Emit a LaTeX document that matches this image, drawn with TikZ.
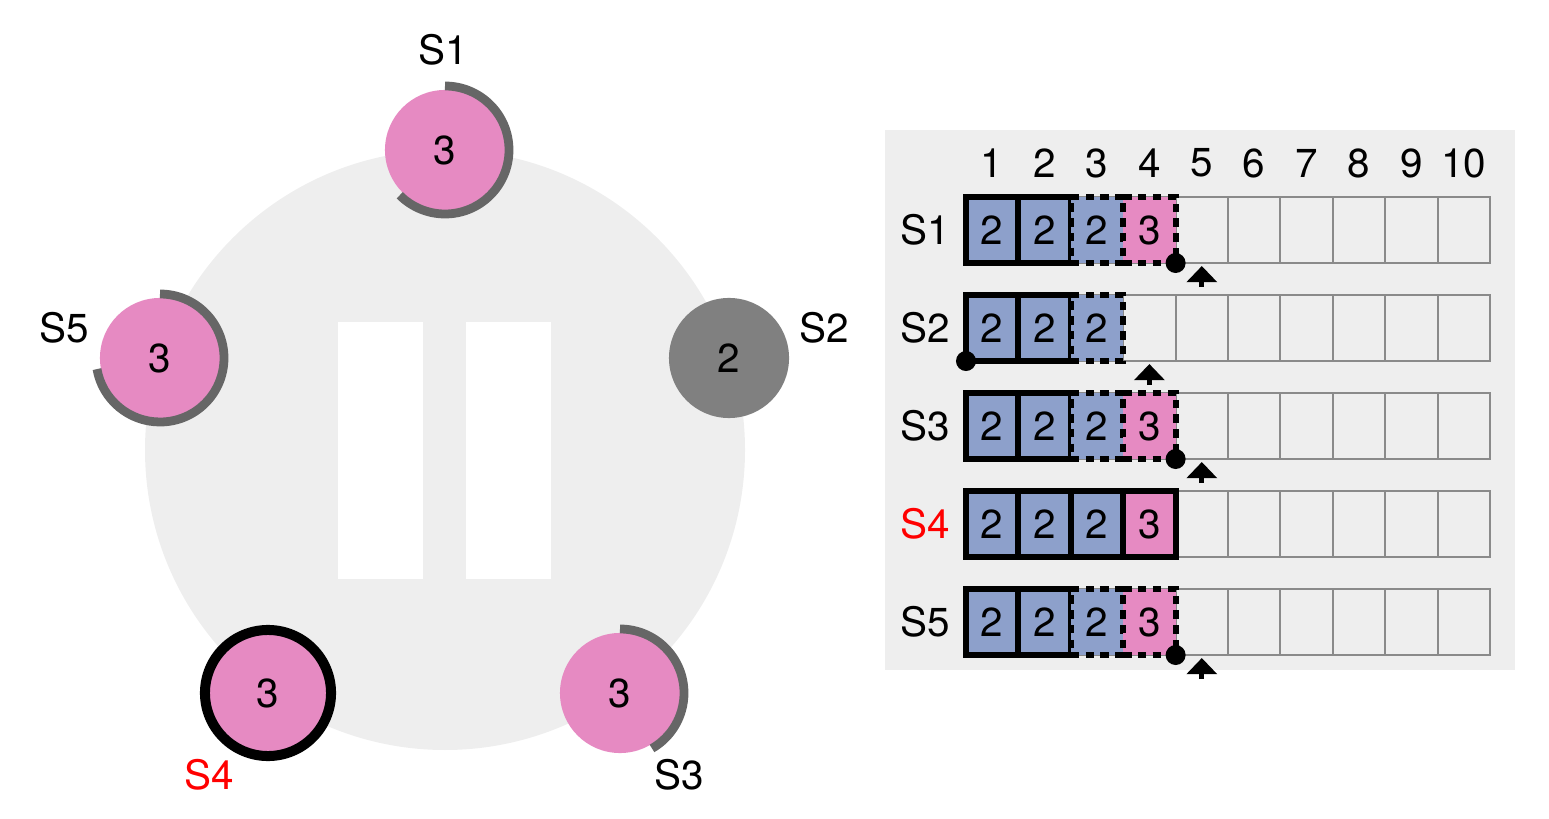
\documentclass[tikz,border=0pt]{standalone}
\usepackage{fontspec}
\setmainfont{TeX Gyre Heros}
\usetikzlibrary{arrows.meta,positioning,calc}
\definecolor{bggray}{RGB}{238,238,238}
\definecolor{termpink}{RGB}{230,138,194}
\definecolor{termblue}{RGB}{141,160,203}
\definecolor{timergray}{RGB}{102,102,102}
\definecolor{deadgray}{RGB}{128,128,128}
\definecolor{gridgray}{RGB}{138,138,138}
\tikzset{
  txt/.style={font=\fontsize{11.5pt}{13pt}\selectfont},
  server/.style={txt, circle, minimum size=1.2cm, inner sep=0pt, fill=termpink},
  leader/.style={draw=black, line width=2.85pt, minimum size=1.26cm},
  timer/.style={timergray, line width=2.5pt},
  slot/.style={rectangle, minimum width=0.524cm, minimum height=0.66cm, inner sep=0pt,
    outer sep=0pt, fill=bggray, draw=gridgray, line width=0.6pt},
  committed/.style={txt, slot, draw=black, line width=1.7pt},
  tentative/.style={committed, dash pattern=on 2.4pt off 1.8pt},
  ptrdot/.style={circle, fill=black, minimum size=0.2cm, inner sep=0pt},
  nextptr/.style={-{Triangle[width=8.5pt,length=4.6pt]}, line width=1.4pt},
}

\begin{document}
\begin{tikzpicture}[x=0.01cm, y=0.01cm]
    \useasboundingbox (0,0) rectangle (1549,818);
    % cluster
    \fill[bggray] (445,368) circle (300);
    \fill[white] (338,239) rectangle (423,496);
    \fill[white] (466,239) rectangle (551,496);
    % servers
    \node[server] (s1) at (445,668) {3};
    \node[server, fill=deadgray] (s2) at (729,460) {2};
    \node[server] (s3) at (620,125) {3};
    \node[server, leader] (s4) at (268,125) {3};
    \node[server] (s5) at (160,460) {3};
    % election timers
    \draw[timer] ([shift={(90:64)}]s1.center) arc[start angle=90, end angle=-135, radius=64];
    \draw[timer] ([shift={(90:64)}]s3.center) arc[start angle=90, end angle=-60, radius=64];
    \draw[timer] ([shift={(90:64)}]s5.center) arc[start angle=90, end angle=-170, radius=64];
    % server names
    \node[txt] (s1name) at (443,768) {S1};
    \node[txt] (s2name) at (824,490) {S2};
    \node[txt] (s3name) at (679,43) {S3};
    \node[txt, red] (s4name) at (209,43) {S4};
    \node[txt] (s5name) at (64,490) {S5};
    % logs
    \fill[bggray] (885,148) rectangle (1515,688);
    \foreach \c in {1,...,10}
      \node[txt] (h\c) at ({966+52.4*(\c-0.5)},655) {\c};
    \foreach \r/\clr in {1/black,2/black,3/black,4/red,5/black} {
      \node[txt, text=\clr] (r\r) at (925,{588-98*(\r-1)}) {S\r};
      \foreach \c in {1,...,10}
        \node[slot] (c\r-\c) at ({966+52.4*(\c-0.5)},{588-98*(\r-1)}) {};
    }
    % S1, S3, S5
    \foreach \r in {1,3,5} {
      \node[committed, fill=termblue] (e\r-1) at (c\r-1) {2};
      \node[committed, fill=termblue] (e\r-2) at (c\r-2) {2};
      \node[tentative, fill=termblue] (e\r-3) at (c\r-3) {2};
      \node[tentative, fill=termpink] (e\r-4) at (c\r-4) {3};
      \node[ptrdot] (d\r) at (c\r-4.south east) {};
      \coordinate (n\r) at ($(c\r-5.south)+(0,-24)$);
      \draw[nextptr] (n\r) -- ($(c\r-5.south)+(0,-3)$);
    }
    % S2
    \node[committed, fill=termblue] (e2-1) at (c2-1) {2};
    \node[committed, fill=termblue] (e2-2) at (c2-2) {2};
    \node[tentative, fill=termblue] (e2-3) at (c2-3) {2};
    \node[ptrdot] (d2) at (c2-1.south west) {};
    \coordinate (n2) at ($(c2-4.south)+(0,-24)$);
    \draw[nextptr] (n2) -- ($(c2-4.south)+(0,-3)$);
    % S4
    \foreach \c in {1,2,3}
      \node[committed, fill=termblue] (e4-\c) at (c4-\c) {2};
    \node[committed, fill=termpink] (e4-4) at (c4-4) {3};
  \end{tikzpicture}
\end{document}
